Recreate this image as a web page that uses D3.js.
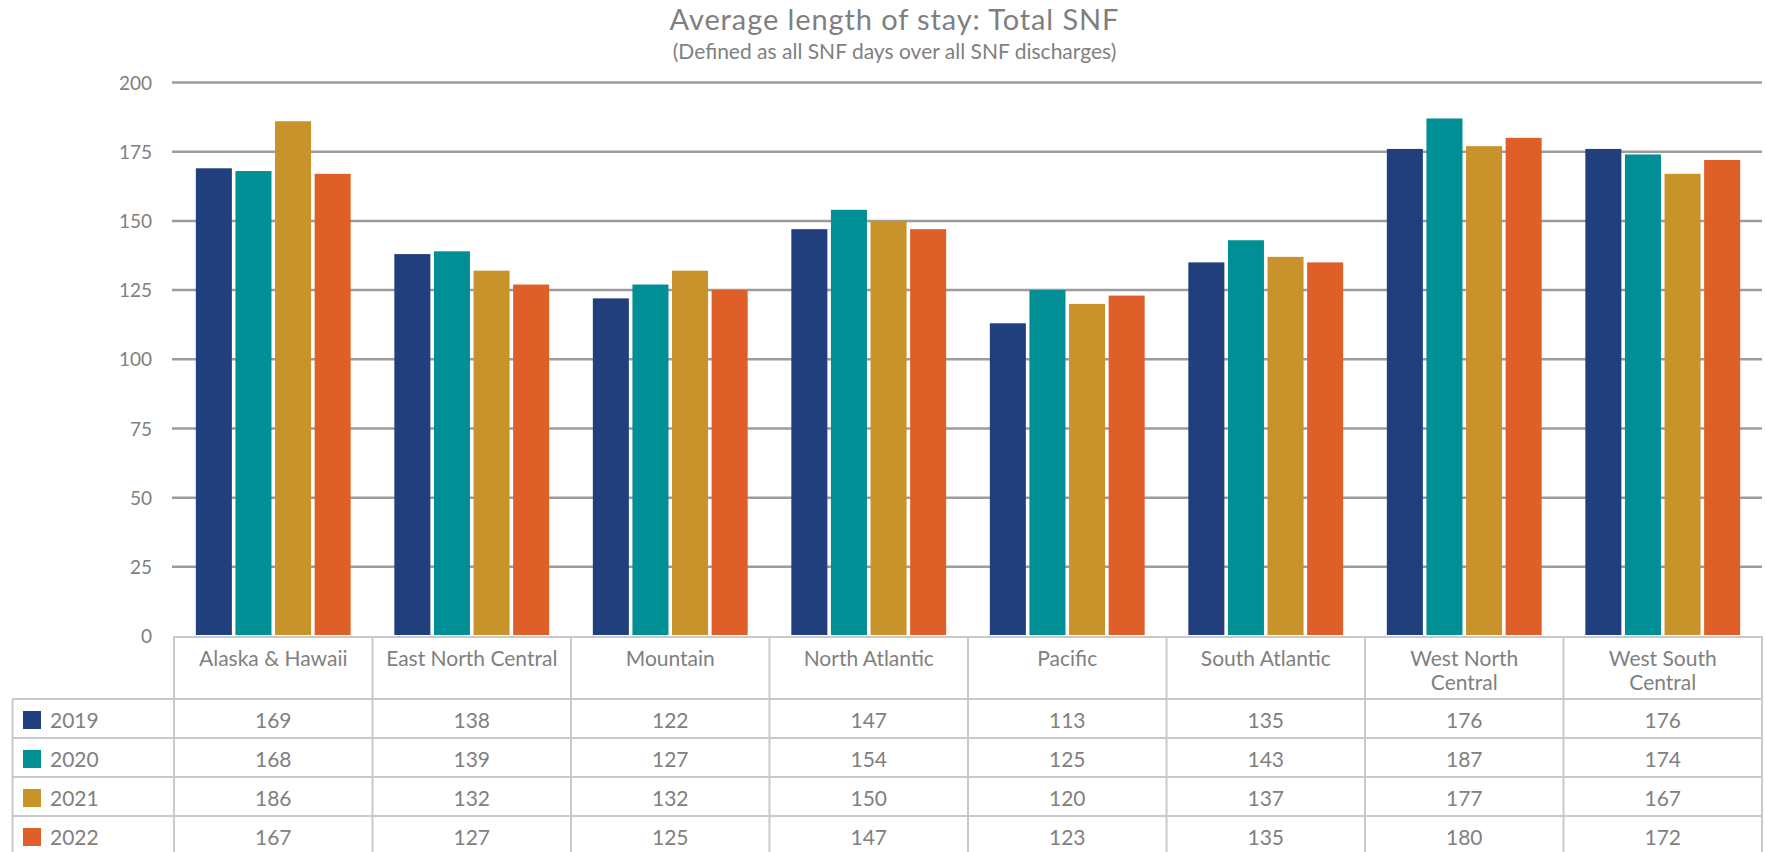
<!DOCTYPE html>
<html>
<head>
<meta charset="utf-8">
<script src="https://cdn.jsdelivr.net/npm/d3@7/dist/d3.min.js"></script>
<style>
  html, body { margin: 0; padding: 0; background: #ffffff; }
  svg { display: block; font-family: "Lato", "Open Sans", sans-serif; }
</style>
</head>
<body>
<svg id="chart" width="1765" height="852"></svg>
<script>
// Average SNF length of stay by census region, 2019–2022
const categories = ["Alaska & Hawaii", "East North Central", "Mountain", "North Atlantic",
                    "Pacific", "South Atlantic", "West North Central", "West South Central"];
const years = ["2019", "2020", "2021", "2022"];
const values2019 = [169, 138, 122, 147, 113, 135, 176, 176];
const values2020 = [168, 139, 127, 154, 125, 143, 187, 174];
const values2021 = [186, 132, 132, 150, 120, 137, 177, 167];
const values2022 = [167, 127, 125, 147, 123, 135, 180, 172];
const yTicks = [0, 25, 50, 75, 100, 125, 150, 175, 200];
const colors = ["#213f7d", "#008f95", "#c9932c", "#de5f28"];
const titleText = "Average length of stay: Total SNF";
const subtitleText = "(Defined as all SNF days over all SNF discharges)";

const seriesValues = [values2019, values2020, values2021, values2022];
const series = years.map((yr, i) => ({ year: yr, color: colors[i], values: seriesValues[i] }));

const svg = d3.select("#chart");

const plot = { left: 174, right: 1762, top: 82.5, bottom: 636 };
const tableLeft = 12.5;
const headerH = 63;
const rowH = 39;
const textColor = "#808080";
const gridColor = "#9c9c9c";
const tableLine = "#c9c9c9";
const tableFont = 21;

const x0 = d3.scaleBand().domain(categories).range([plot.left, plot.right]).paddingInner(0).paddingOuter(0);
const colW = x0.bandwidth();
const x1 = d3.scaleBand().domain(years).range([colW * 0.11, colW * 0.89]).paddingInner(0.09);
const y = d3.scaleLinear().domain([0, 200]).range([plot.bottom, plot.top]);

// Title block
const cx = 894.5;
svg.append("text").attr("x", cx).attr("y", 30).attr("text-anchor", "middle")
  .attr("font-size", 29).attr("letter-spacing", 0.9).attr("fill", "#7f7f7f").text(titleText);
svg.append("text").attr("x", cx).attr("y", 59).attr("text-anchor", "middle")
  .attr("font-size", 21).attr("fill", "#7f7f7f").text(subtitleText);

// Value axis labels
const yAxis = d3.axisLeft(y).tickValues(yTicks).tickSize(0).tickPadding(22);
const ga = svg.append("g").attr("transform", `translate(${plot.left},0)`).call(yAxis);
ga.select(".domain").remove();
ga.selectAll("text").attr("font-size", 19).attr("fill", textColor)
  .attr("font-family", "Lato, sans-serif").attr("dy", "0.35em");

// Horizontal gridlines
svg.append("g").selectAll("line").data(yTicks.filter(d => d > 0)).join("line")
  .attr("x1", plot.left - 2).attr("x2", plot.right)
  .attr("y1", d => y(d)).attr("y2", d => y(d))
  .attr("stroke", gridColor).attr("stroke-width", 2.5);

// Clustered bars
const groups = svg.append("g").selectAll("g").data(categories).join("g")
  .attr("transform", d => `translate(${x0(d)},0)`);
groups.selectAll("rect")
  .data((c, ci) => series.map(s => ({ year: s.year, color: s.color, value: s.values[ci] })))
  .join("rect")
  .attr("x", d => x1(d.year))
  .attr("width", x1.bandwidth())
  .attr("y", d => y(d.value))
  .attr("height", d => y(0) - y(d.value) - 1)
  .attr("fill", d => d.color);

// Data table under the plot
const tTop = plot.bottom;
const rowsTop = tTop + headerH;
const tBottom = rowsTop + rowH * years.length + 20;
const tbl = svg.append("g");

// horizontal rules
tbl.append("line").attr("x1", plot.left - 1).attr("x2", plot.right)
  .attr("y1", tTop + 1).attr("y2", tTop + 1).attr("stroke", tableLine).attr("stroke-width", 2);
d3.range(years.length).forEach(i => {
  tbl.append("line").attr("x1", tableLeft).attr("x2", plot.right)
    .attr("y1", rowsTop + i * rowH).attr("y2", rowsTop + i * rowH)
    .attr("stroke", tableLine).attr("stroke-width", 2);
});
// vertical rules
tbl.append("line").attr("x1", tableLeft).attr("x2", tableLeft)
  .attr("y1", rowsTop).attr("y2", tBottom).attr("stroke", tableLine).attr("stroke-width", 2);
const bounds = categories.map(c => x0(c)).concat([plot.right]);
tbl.selectAll(".vline").data(bounds).join("line")
  .attr("x1", d => d).attr("x2", d => d)
  .attr("y1", tTop).attr("y2", tBottom)
  .attr("stroke", tableLine).attr("stroke-width", 2);

// category headers, wrapped to fit the column
const maxW = 175;
categories.forEach(c => {
  const mid = x0(c) + colW / 2;
  const t = tbl.append("text").attr("x", mid).attr("y", tTop + 30)
    .attr("text-anchor", "middle").attr("font-size", tableFont).attr("fill", textColor);
  const words = c.split(" ");
  let line = [];
  let tspan = t.append("tspan").attr("x", mid).attr("dy", 0);
  words.forEach(w => {
    line.push(w);
    tspan.text(line.join(" "));
    if (tspan.node().getComputedTextLength() > maxW && line.length > 1) {
      line.pop();
      tspan.text(line.join(" "));
      line = [w];
      tspan = t.append("tspan").attr("x", mid).attr("dy", 23.8).text(w);
    }
  });
});

// legend keys and table values
series.forEach((s, i) => {
  const rTop = rowsTop + i * rowH;
  tbl.append("rect").attr("x", 23).attr("y", rTop + 12).attr("width", 18).attr("height", 18)
    .attr("fill", s.color);
  tbl.append("text").attr("x", 50).attr("y", rTop + 29).attr("font-size", tableFont)
    .attr("fill", textColor).text(s.year);
  categories.forEach((c, ci) => {
    tbl.append("text").attr("x", x0(c) + colW / 2).attr("y", rTop + 29)
      .attr("text-anchor", "middle").attr("font-size", tableFont).attr("fill", textColor)
      .text(s.values[ci]);
  });
});
</script>
</body>
</html>
